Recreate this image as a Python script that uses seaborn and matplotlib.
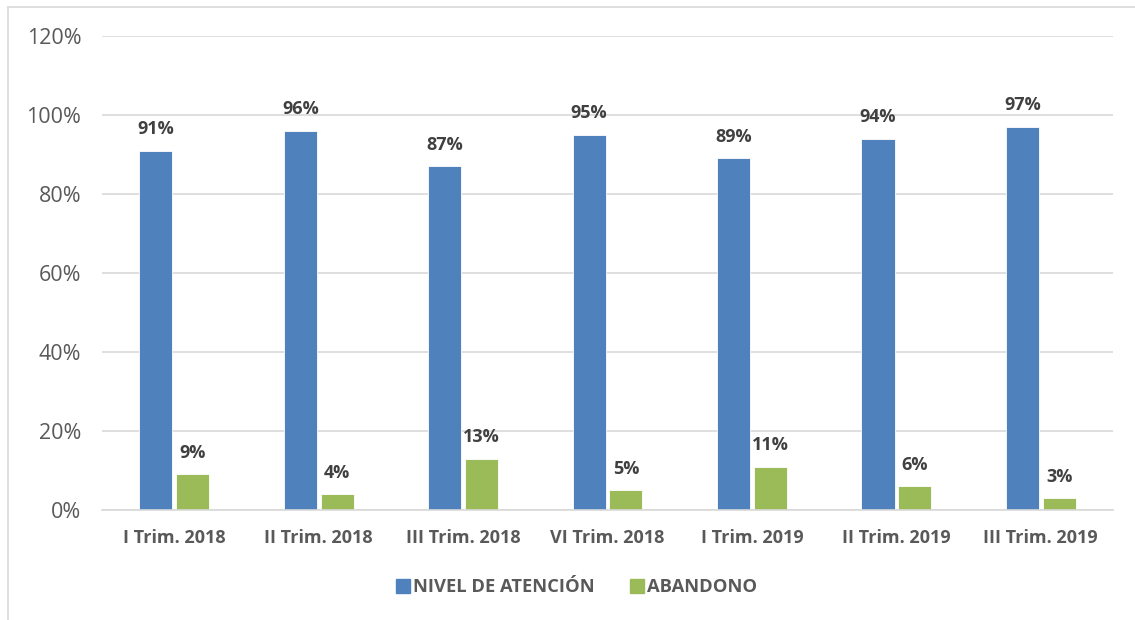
import matplotlib
matplotlib.use("Agg")
import matplotlib.pyplot as plt
import matplotlib.lines as mlines
import seaborn as sns
import pandas as pd

categories = ["I Trim. 2018", "II Trim. 2018", "III Trim. 2018", "VI Trim. 2018",
              "I Trim. 2019", "II Trim. 2019", "III Trim. 2019"]
nivel_atencion = [91, 96, 87, 95, 89, 94, 97]
abandono = [9, 4, 13, 5, 11, 6, 3]
series_names = ["NIVEL DE ATENCIÓN", "ABANDONO"]
y_ticks = [0, 20, 40, 60, 80, 100, 120]

df = pd.DataFrame({
    "trimestre": categories * 2,
    "serie": [series_names[0]] * len(categories) + [series_names[1]] * len(categories),
    "valor": nivel_atencion + abandono,
})

sns.set_style("white")
plt.rcParams["font.family"] = ["Open Sans", "DejaVu Sans"]

fig = plt.figure(figsize=(11.35, 6.2), dpi=100)
ax = fig.add_axes([0.0899, 0.1774, 0.8907, 0.7645])

palette = {series_names[0]: "#4F81BD", series_names[1]: "#9BBB59"}
sns.barplot(data=df, x="trimestre", y="valor", hue="serie", palette=palette,
            width=0.51, gap=0.1, saturation=1, ax=ax, legend=False,
            edgecolor="white", linewidth=0.6, errorbar=None)

ax.set_ylim(0, 120)
ax.set_xlim(-0.5, len(categories) - 0.5)
ax.set_yticks(y_ticks)
ax.set_yticklabels([f"{t}%" for t in y_ticks])
ax.yaxis.grid(True, color="#D9D9D9", linewidth=1.2)
ax.set_axisbelow(True)
for side in ["top", "right", "left"]:
    ax.spines[side].set_visible(False)
ax.spines["bottom"].set_color("#D9D9D9")
ax.spines["bottom"].set_linewidth(1.2)
ax.set_xlabel("")
ax.set_ylabel("")
ax.tick_params(axis="y", length=0, pad=15, labelsize=15.5, labelcolor="#595959")
ax.tick_params(axis="x", length=0, pad=14, labelsize=13, labelcolor="#595959")
for lbl in ax.get_xticklabels():
    lbl.set_fontweight("bold")

# value labels above each bar
for container in ax.containers:
    ax.bar_label(container, labels=[f"{v:.0f}%" for v in container.datavalues],
                 padding=9, fontsize=13, fontweight="bold", color="#404040")

# legend below the plot
handles = [mlines.Line2D([], [], marker="s", linestyle="none", markersize=9.5,
                         markerfacecolor=palette[n], markeredgecolor=palette[n])
           for n in series_names]
fig.legend(handles, series_names, loc="center", bbox_to_anchor=(0.508, 0.053),
           ncol=2, frameon=False, handlelength=0.8, handletextpad=0.15,
           columnspacing=1.9, prop={"weight": "bold", "size": 13.2},
           labelcolor="#595959")

# chart frame edges
fig.add_artist(mlines.Line2D([8 / 1135, 8 / 1135], [0, 1 - 7 / 620], color="#D9D9D9",
                             linewidth=1.2, transform=fig.transFigure))
fig.add_artist(mlines.Line2D([8 / 1135, 1], [1 - 7 / 620, 1 - 7 / 620], color="#D9D9D9",
                             linewidth=1.2, transform=fig.transFigure))

fig.savefig("out.png", dpi=100)
